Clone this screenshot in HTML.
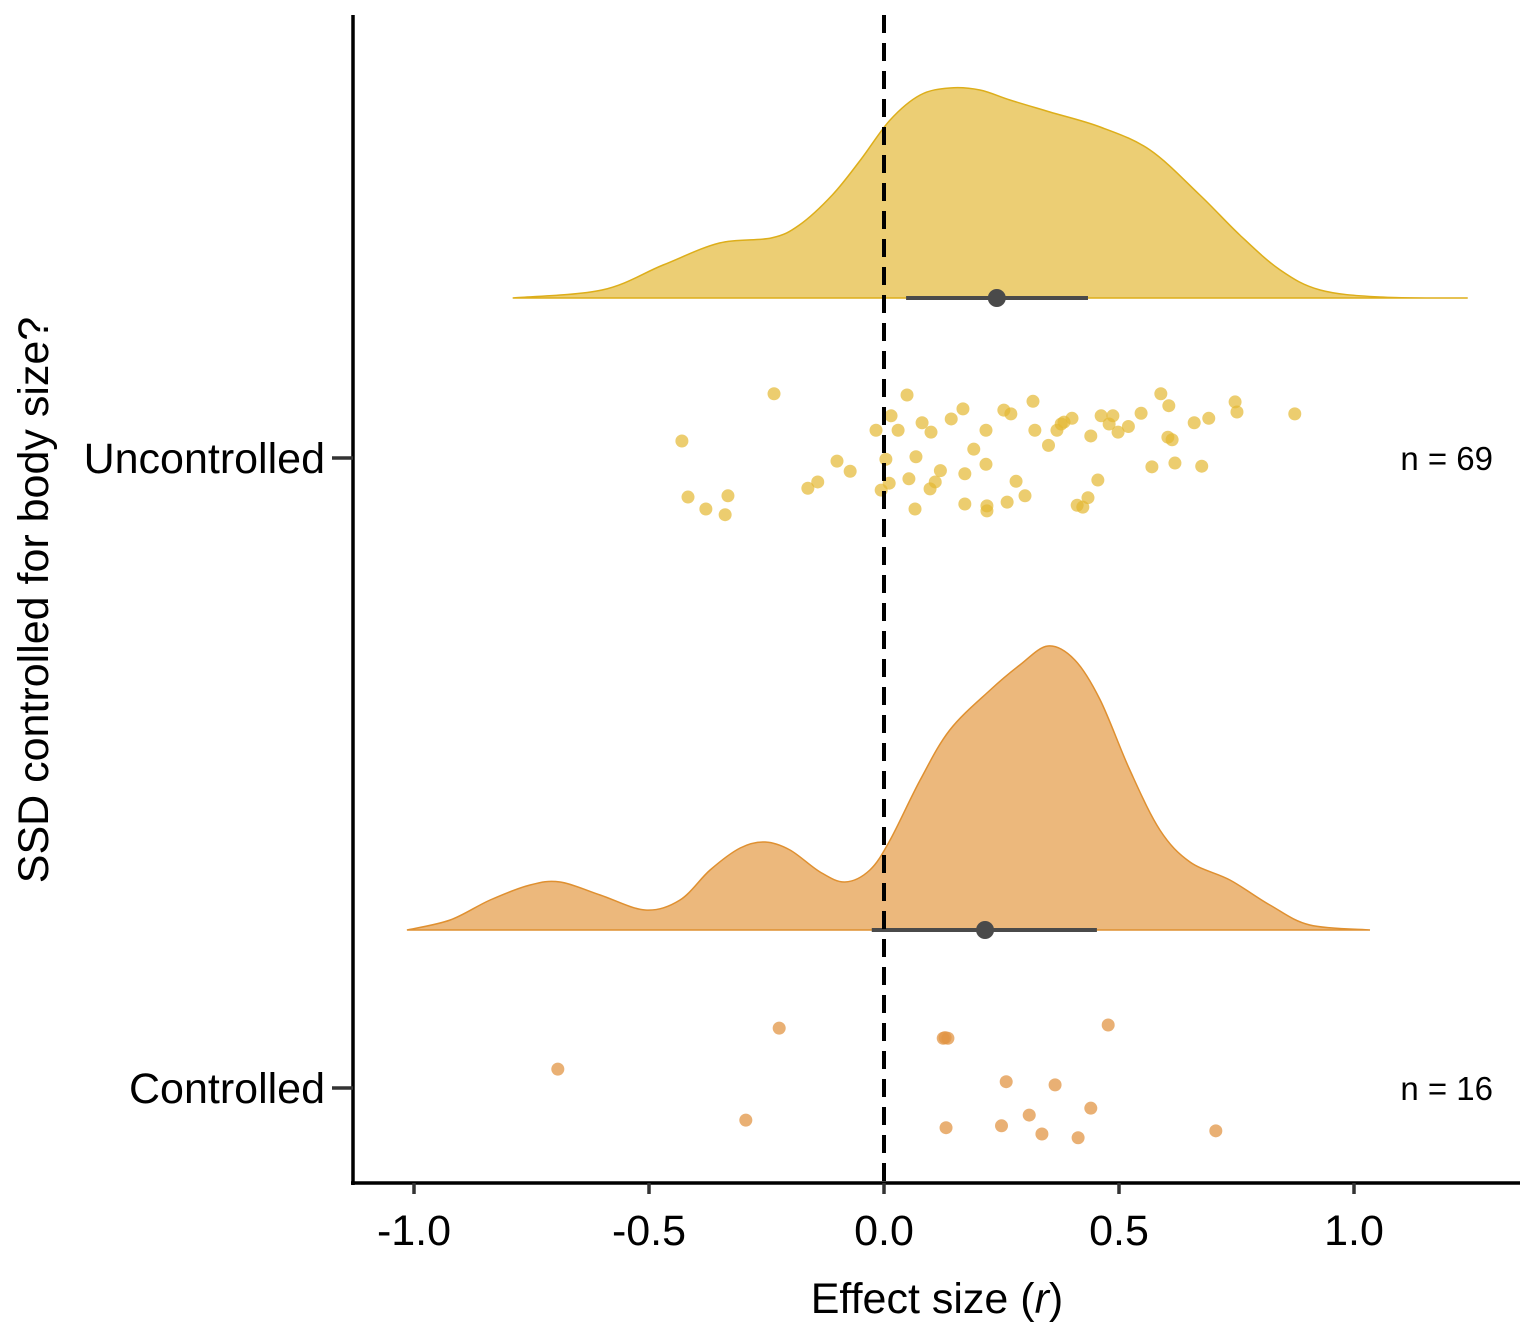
<!DOCTYPE html>
<html><head><meta charset="utf-8"><style>
html,body{margin:0;padding:0;background:#fff}
svg{display:block;font-family:"Liberation Sans",Arial,sans-serif}
</style></head><body>
<svg id="chart" width="1536" height="1344" viewBox="0 0 1536 1344">
<g id="plot"></g>
</svg>
<script>
const categories=["Uncontrolled","Controlled"];
const counts=[69,16];
const xTicks=[-1.0,-0.5,0.0,0.5,1.0];
const xTickLabels=["-1.0","-0.5","0.0","0.5","1.0"];
const uncDensX=[-0.79,-0.60,-0.47,-0.35,-0.24,-0.18,-0.11,-0.05,0.013,0.077,0.14,0.204,0.268,0.353,0.46,0.566,0.672,0.757,0.843,0.928,1.055,1.242];
const uncDensH=[0,0.08,0.33,0.55,0.60,0.73,1.03,1.38,1.78,2.03,2.10,2.08,1.98,1.86,1.71,1.48,1.03,0.63,0.28,0.08,0.01,0];
const conDensX=[-1.015,-0.923,-0.838,-0.753,-0.689,-0.604,-0.508,-0.434,-0.37,-0.306,-0.253,-0.2,-0.136,-0.083,-0.03,0.013,0.077,0.14,0.226,0.289,0.349,0.406,0.46,0.523,0.587,0.651,0.736,0.821,0.906,1.034];
const conDensH=[0,0.10,0.30,0.45,0.48,0.35,0.20,0.30,0.60,0.82,0.88,0.80,0.58,0.48,0.60,0.90,1.50,2.00,2.40,2.65,2.84,2.70,2.30,1.60,1.00,0.68,0.50,0.25,0.05,0];
const uncPtX=[-0.234,0.049,0.589,0.317,0.747,0.168,0.255,0.606,0.27,0.015,0.547,0.751,0.874,0.4,0.462,0.487,0.081,0.143,0.383,0.377,0.691,0.479,0.66,-0.017,0.03,0.1,0.217,0.321,0.368,0.498,0.604,0.613,-0.43,0.191,0.068,0.004,0.217,0.57,0.619,0.676,-0.072,0.172,0.053,0.109,0.281,0.455,-0.141,-0.162,0.011,0.098,-0.006,-0.417,-0.332,0.434,0.172,0.262,0.219,0.411,0.423,-0.379,-0.338,0.066,0.219,0.35,0.12,0.52,-0.1,0.3,0.44];
const uncPtJ=[-0.102,-0.10,-0.102,-0.090,-0.089,-0.078,-0.076,-0.083,-0.070,-0.067,-0.071,-0.073,-0.070,-0.063,-0.067,-0.067,-0.056,-0.062,-0.057,-0.054,-0.063,-0.054,-0.056,-0.044,-0.044,-0.041,-0.044,-0.044,-0.044,-0.041,-0.033,-0.029,-0.027,-0.014,-0.002,0.002,0.010,0.014,0.008,0.013,0.021,0.025,0.033,0.038,0.037,0.035,0.038,0.048,0.040,0.049,0.051,0.062,0.060,0.063,0.073,0.070,0.076,0.075,0.078,0.081,0.090,0.081,0.084,-0.02,0.02,-0.05,0.005,0.06,-0.035];
const conPtX=[-0.223,0.126,0.136,0.477,-0.694,0.260,0.364,-0.294,0.309,0.440,0.132,0.336,0.413,0.706,0.13,0.25];
const conPtJ=[-0.095,-0.079,-0.079,-0.100,-0.030,-0.010,-0.005,0.051,0.043,0.032,0.063,0.073,0.079,0.068,-0.08,0.06];
const means=[0.24,0.215];
const ciLow=[0.047,-0.026];
const ciHigh=[0.434,0.453];

const X=v=>884+470*v;
const catY=i=>458+630*i;
const baseY=i=>298+632*i;
const densScale=100;
const fills=["rgba(230,190,70,0.75)","rgba(230,160,80,0.75)"];
const strokes=["#DDAE1A","#DF9030"];
const ptFill=["rgba(228,184,50,0.7)","rgba(226,150,70,0.75)"];
const NS="http://www.w3.org/2000/svg";
const plot=document.getElementById("plot");
function mk(t,a,p){const e=document.createElementNS(NS,t);for(const k in a)e.setAttribute(k,a[k]);(p||plot).appendChild(e);return e;}

[[uncDensX,uncDensH],[conDensX,conDensH]].forEach((d,i)=>{
  const pts=d[0].map((x,j)=>[X(x),baseY(i)-d[1][j]*densScale]);
  let p="M"+pts[0][0]+","+baseY(i);
  for(let j=0;j<pts.length;j++){
    if(j==0){p+=" L"+pts[0][0]+","+pts[0][1];continue;}
    const a=pts[j-1],b=pts[j],pa=pts[j-2]||a,nb=pts[j+1]||b;
    const c1=[a[0]+(b[0]-pa[0])/6,a[1]+(b[1]-pa[1])/6],c2=[b[0]-(nb[0]-a[0])/6,b[1]-(nb[1]-a[1])/6];
    p+=` C${c1[0]},${c1[1]} ${c2[0]},${c2[1]} ${b[0]},${b[1]}`;
  }
  p+=" Z";
  const e=mk("path",{d:p,fill:fills[i],stroke:strokes[i],"stroke-width":1.5});
  
  
});
[[uncPtX,uncPtJ],[conPtX,conPtJ]].forEach((d,i)=>{
  d[0].forEach((x,j)=>{
    const c=mk("circle",{cx:X(x),cy:catY(i)+d[1][j]*630,r:6.5,fill:ptFill[i]});
    
    
  });
});
means.forEach((m,i)=>{
  const l=mk("line",{x1:X(ciLow[i]),x2:X(ciHigh[i]),y1:baseY(i),y2:baseY(i),stroke:"#4a4a4a","stroke-width":4});
  
  
  const c=mk("circle",{cx:X(m),cy:baseY(i),r:9,fill:"#4a4a4a"});
  
  
});
const z=mk("line",{x1:X(0),x2:X(0),y1:15,y2:1183,stroke:"#000","stroke-width":4,"stroke-dasharray":"18,10"});


const ya=mk("line",{x1:353,x2:353,y1:15,y2:1185,stroke:"#000","stroke-width":3.5});

const xa=mk("line",{x1:351,x2:1520,y1:1183,y2:1183,stroke:"#000","stroke-width":3.5});

xTicks.forEach((t,i)=>{
  const l=mk("line",{x1:X(t),x2:X(t),y1:1183,y2:1194,stroke:"#333","stroke-width":3.5});
  
  const tx=mk("text",{x:X(t),y:1245,"text-anchor":"middle","font-size":43,fill:"#000"});
  tx.textContent=xTickLabels[i];
  
});
categories.forEach((c,i)=>{
  const l=mk("line",{x1:332,x2:353,y1:catY(i),y2:catY(i),stroke:"#333","stroke-width":3.5});
  
  const tx=mk("text",{x:325,y:catY(i)+15,"text-anchor":"end","font-size":43,fill:"#000"});
  tx.textContent=c;
  
  const n=mk("text",{x:1493,y:catY(i)+12,"text-anchor":"end","font-size":33,fill:"#000"});
  n.textContent="n = "+counts[i];
  
});
const xt=mk("text",{x:937,y:1313,"text-anchor":"middle","font-size":43,fill:"#000"});
xt.innerHTML='Effect size (<tspan font-style="italic">r</tspan>)';

const yt=mk("text",{x:0,y:0,"text-anchor":"middle","font-size":43,fill:"#000",transform:"translate(48,600) rotate(-90)"});
yt.textContent="SSD controlled for body size?";

</script>
</body></html>
